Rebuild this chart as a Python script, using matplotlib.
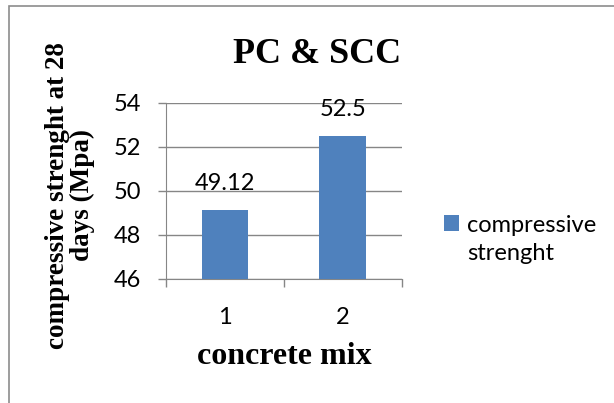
import matplotlib
matplotlib.use("Agg")
import matplotlib.pyplot as plt
from matplotlib.patches import Rectangle
from matplotlib.legend_handler import HandlerPatch

mixes = ["1", "2"]
strength = [49.12, 52.5]
value_labels = ["49.12", "52.5"]
yticks = [46, 48, 50, 52, 54]

bar_color = "#4F81BD"
grid_color = "#868686"
serif = "Liberation Serif"
sans = "Lato"
fs = 17

fig = plt.figure(figsize=(6.14, 4.03), dpi=100)
ax = fig.add_axes([0.2704, 0.3077, 0.3838, 0.4375])

# outer chart border (left and top visible)
fig.patches.append(Rectangle((9 / 614, -0.1), 1.2, 1 - 6.5 / 403 + 0.1,
                             transform=fig.transFigure, fill=False,
                             edgecolor="#8c8c8c", linewidth=1.2))

x = range(len(mixes))
bars = ax.bar(x, strength, width=0.395, color=bar_color,
              label="compressive\nstrenght", zorder=3)

for xi, v, lab in zip(x, strength, value_labels):
    ax.annotate(lab, (xi, v), xytext=(0, 19), textcoords="offset points",
                ha="center", va="center", fontsize=fs, family=sans)

ax.set_xlim(-0.5, 1.5)
ax.set_ylim(46, 54)
ax.set_yticks(yticks)
ax.set_xticks([-0.5, 0.5, 1.5])
ax.set_xticklabels([])
ax.set_xticks([0, 1], labels=mixes, minor=True)
ax.tick_params(axis="x", which="minor", length=0, pad=20, labelsize=fs)
ax.tick_params(axis="x", which="major", length=6, color=grid_color, width=1)
ax.tick_params(axis="y", length=6, color=grid_color, width=1, pad=12,
               labelsize=fs)
for t in ax.get_xticklabels(minor=True) + ax.get_yticklabels():
    t.set_family(sans)

ax.grid(axis="y", color=grid_color, linewidth=1, zorder=0)
for s in ["top", "right"]:
    ax.spines[s].set_visible(False)
ax.spines["left"].set_color(grid_color)
ax.spines["bottom"].set_color(grid_color)

fig.text(0.517, 0.864, "PC & SCC", ha="center", va="center",
         family=serif, fontweight="bold", fontsize=26)
ax.set_xlabel("concrete mix", family=serif, fontweight="bold", fontsize=23,
              labelpad=10)
fig.text(0.114, 0.515, "compressive strenght at 28\ndays (Mpa)",
         rotation=90, ha="center", va="center", multialignment="center",
         family=serif, fontweight="bold", fontsize=19.5, linespacing=1.0)


# legend square sits next to the first line of the label
def top_square(legend, orig_handle, xdescent, ydescent, width, height, fontsize):
    return Rectangle((-xdescent, -ydescent + 0.7 * fontsize), width, height)


leg = ax.legend(handles=[bars.patches[0]], labels=["compressive\nstrenght"],
                loc="center left", bbox_to_anchor=(0.723, 0.406),
                bbox_transform=fig.transFigure, frameon=False,
                prop={"family": sans, "size": fs}, handlelength=0.64,
                handleheight=0.64, handletextpad=0.35, borderpad=0,
                borderaxespad=0,
                handler_map={Rectangle: HandlerPatch(patch_func=top_square)})
for t in leg.get_texts():
    t.set_linespacing(1.45)

fig.savefig("out.png", dpi=100)
